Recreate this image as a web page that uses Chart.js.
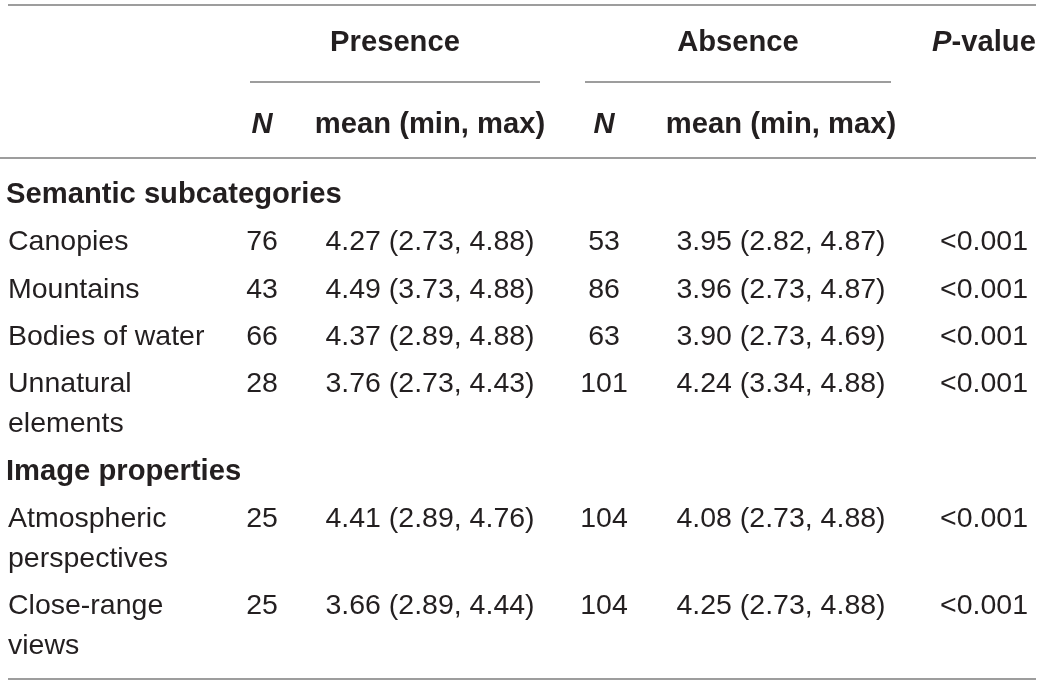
<!DOCTYPE html>
<html>
<head>
<meta charset="utf-8">
<script src="https://cdn.jsdelivr.net/npm/chart.js@4.4.1/dist/chart.umd.min.js"></script>
<style>
  html, body { margin: 0; padding: 0; background: #ffffff; }
  #wrap { width: 1043px; height: 685px; position: relative; }
</style>
</head>
<body>
<div id="wrap"><canvas id="c"></canvas></div>
<script>
// ---------- data ----------
const groups = ["Semantic subcategories", "Image properties"];
const groupSizes = [4, 2];
const categories = [
  ["Canopies"],
  ["Mountains"],
  ["Bodies of water"],
  ["Unnatural", "elements"],
  ["Atmospheric", "perspectives"],
  ["Close-range", "views"]
];
const presenceN    = [76, 43, 66, 28, 25, 25];
const presenceMean = [4.27, 4.49, 4.37, 3.76, 4.41, 3.66];
const presenceMin  = [2.73, 3.73, 2.89, 2.73, 2.89, 2.89];
const presenceMax  = [4.88, 4.88, 4.88, 4.43, 4.76, 4.44];
const absenceN     = [53, 86, 63, 101, 104, 104];
const absenceMean  = [3.95, 3.96, 3.90, 4.24, 4.08, 4.25];
const absenceMin   = [2.82, 2.73, 2.73, 3.34, 2.73, 2.73];
const absenceMax   = [4.87, 4.87, 4.69, 4.88, 4.88, 4.88];
const pValues      = ["<0.001", "<0.001", "<0.001", "<0.001", "<0.001", "<0.001"];
const groupHeaders = ["Presence", "Absence"];

// ---------- layout (px in scale units) ----------
const W = 1043, H = 685;
const COL = { label: 8, pN: 262, pMean: 430, aN: 604, aMean: 781, p: 984 };
const GROUP_SPAN = [[250, 540], [585, 891]];
const Y_HEAD1 = 51, Y_HEAD2 = 133;
const Y_TOP_RULE = 5, Y_SUB_RULE = 82, Y_HEAD_RULE = 158;
const FIRST_BASE = 203, ROW_STEP = 47.3, WRAP_STEP = 40, BOTTOM_GAP = 25;
const FONT_SIZE = 28.5, BOLD_SIZE = 29.2;
const FAMILY = "'Liberation Sans', Arial, Helvetica, sans-serif";
const TEXT_COLOR = "#231f20";
const RULE_COLOR = "#7d7d7d";

// compute row baselines from the structure
const sectionY = [];
const rowY = [];
let y = FIRST_BASE, lastLines = 1, r = 0;
groups.forEach((g, gi) => {
  if (gi > 0) y += (lastLines - 1) * WRAP_STEP + ROW_STEP;
  sectionY.push(y); lastLines = 1;
  for (let k = 0; k < groupSizes[gi]; k++, r++) {
    y += (lastLines - 1) * WRAP_STEP + ROW_STEP;
    rowY.push(y);
    lastLines = categories[r].length;
  }
});
const Y_BOTTOM_RULE = y + (lastLines - 1) * WRAP_STEP + BOTTOM_GAP;

const fmt = v => v.toFixed(2);
const cellTexts = {
  pN: presenceN.map(String),
  pMean: presenceMean.map((m, i) => `${fmt(m)} (${fmt(presenceMin[i])}, ${fmt(presenceMax[i])})`),
  aN: absenceN.map(String),
  aMean: absenceMean.map((m, i) => `${fmt(m)} (${fmt(absenceMin[i])}, ${fmt(absenceMax[i])})`),
  p: pValues
};

function colDataset(key) {
  return {
    label: key,
    cellKey: key,
    data: rowY.map(yy => ({ x: COL[key], y: yy })),
    pointRadius: 0, pointHoverRadius: 0, showLine: false
  };
}

const datasets = [
  { label: "labels", cellKey: "label", data: rowY.map(yy => ({ x: COL.label, y: yy })), pointRadius: 0, showLine: false },
  { label: "sections", cellKey: "section", data: sectionY.map(yy => ({ x: COL.label, y: yy })), pointRadius: 0, showLine: false },
  colDataset("pN"), colDataset("pMean"), colDataset("aN"), colDataset("aMean"), colDataset("p")
];

const tablePlugin = {
  id: "tablePlugin",
  afterDatasetsDraw(chart) {
    const ctx = chart.ctx;
    const xs = chart.scales.x, ys = chart.scales.y;
    const X = v => xs.getPixelForValue(v), Y = v => ys.getPixelForValue(v);
    ctx.save();
    ctx.textBaseline = "alphabetic";
    ctx.fillStyle = TEXT_COLOR;
    const reg = `${FONT_SIZE}px ${FAMILY}`;
    const bold = `bold ${BOLD_SIZE}px ${FAMILY}`;
    const boldIt = `italic bold ${BOLD_SIZE}px ${FAMILY}`;
    const lineStep = Y(WRAP_STEP) - Y(0);

    // rules
    ctx.strokeStyle = RULE_COLOR;
    ctx.lineWidth = 1.5;
    const hline = (x1, x2, yy) => { ctx.beginPath(); ctx.moveTo(X(x1), Y(yy)); ctx.lineTo(X(x2), Y(yy)); ctx.stroke(); };
    hline(8, 1036, Y_TOP_RULE);
    GROUP_SPAN.forEach(s => hline(s[0], s[1], Y_SUB_RULE));
    hline(0, 1036, Y_HEAD_RULE);
    hline(8, 1036, Y_BOTTOM_RULE);

    // header row 1
    ctx.font = bold; ctx.textAlign = "center";
    GROUP_SPAN.forEach((s, i) => ctx.fillText(groupHeaders[i], X((s[0] + s[1]) / 2), Y(Y_HEAD1)));
    // P-value (italic P)
    ctx.textAlign = "left";
    ctx.font = boldIt; const wP = ctx.measureText("P").width;
    ctx.font = bold; const wRest = ctx.measureText("-value").width;
    const pStart = X(COL.p) - (wP + wRest) / 2;
    ctx.font = boldIt; ctx.fillText("P", pStart, Y(Y_HEAD1));
    ctx.font = bold; ctx.fillText("-value", pStart + wP, Y(Y_HEAD1));

    // header row 2
    ctx.textAlign = "center";
    ctx.font = boldIt;
    ctx.fillText("N", X(COL.pN), Y(Y_HEAD2));
    ctx.fillText("N", X(COL.aN), Y(Y_HEAD2));
    ctx.font = bold;
    ctx.fillText("mean (min, max)", X(COL.pMean), Y(Y_HEAD2));
    ctx.fillText("mean (min, max)", X(COL.aMean), Y(Y_HEAD2));

    // cells from dataset elements
    chart.data.datasets.forEach((ds, di) => {
      const meta = chart.getDatasetMeta(di);
      meta.data.forEach((el, i) => {
        if (ds.cellKey === "label") {
          ctx.font = reg; ctx.textAlign = "left";
          categories[i].forEach((ln, li) => ctx.fillText(ln, el.x, el.y + li * lineStep));
        } else if (ds.cellKey === "section") {
          ctx.font = bold; ctx.textAlign = "left";
          ctx.fillText(groups[i], el.x - 2, el.y);
        } else {
          ctx.font = reg; ctx.textAlign = "center";
          ctx.fillText(cellTexts[ds.cellKey][i], el.x, el.y);
        }
      });
    });
    ctx.restore();
  }
};

new Chart(document.getElementById("c"), {
  type: "scatter",
  data: { datasets },
  options: {
    responsive: true,
    maintainAspectRatio: false,
    animation: false,
    events: [],
    layout: { padding: 0 },
    plugins: { legend: { display: false }, tooltip: { enabled: false }, title: { display: false } },
    scales: {
      x: { type: "linear", min: 0, max: W, display: false },
      y: { type: "linear", min: 0, max: H, reverse: true, display: false }
    }
  },
  plugins: [tablePlugin]
});
</script>
</body>
</html>
